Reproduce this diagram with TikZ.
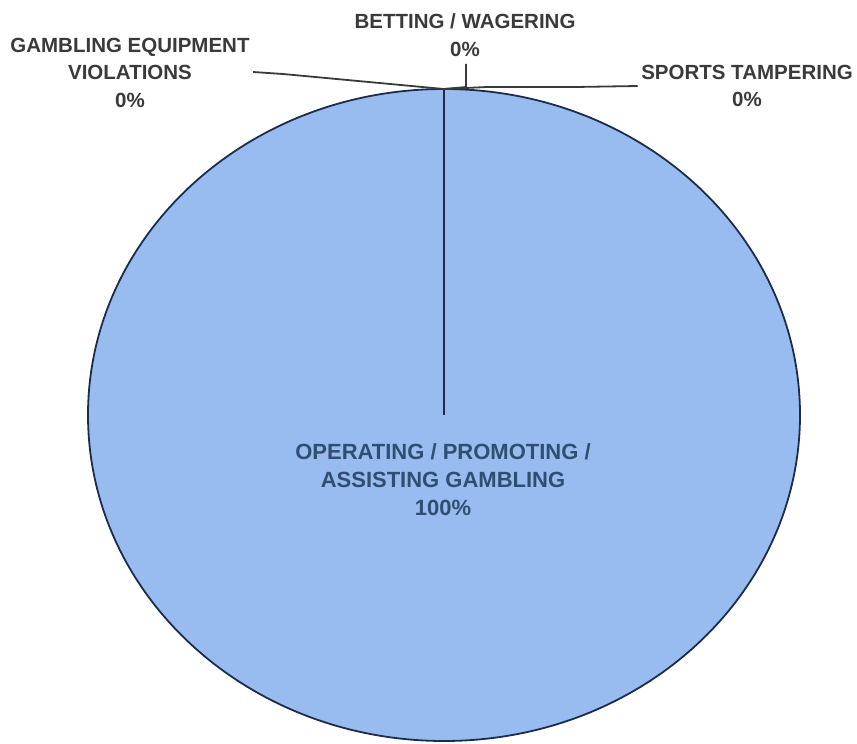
\documentclass[tikz,border=0pt]{standalone}
\usepackage{fontspec}
\setmainfont{Liberation Sans}
\definecolor{piefill}{RGB}{153,188,240}
\definecolor{pieline}{RGB}{30,44,76}
\definecolor{labelgray}{RGB}{58,58,58}
\definecolor{innerblue}{RGB}{48,78,114}
\tikzset{>=stealth}

\begin{document}
\begin{tikzpicture}[x=1pt,y=-1pt,
    lbl/.style={font=\bfseries\fontsize{20.5}{27.5}\selectfont, text=labelgray, align=center},
    leader/.style={draw=labelgray, line width=1.8pt}]
    \useasboundingbox (0,0) rectangle (857,744);
    \coordinate (c) at (444,415);
    \coordinate (top) at (444,89);
    \draw[pieline, fill=piefill, line width=1.8pt] (c) ellipse [x radius=356, y radius=326];
    \draw[pieline, line width=1.8pt] (c) -- (top);
    \node[font=\bfseries\fontsize{22}{28}\selectfont, text=innerblue, align=center] (ops) at (443,480) {OPERATING / PROMOTING /\\ASSISTING GAMBLING\\100\%};
    \node[lbl] (gev) at (130,72.5) {GAMBLING EQUIPMENT\\VIOLATIONS\\0\%};
    \node[lbl] (bet) at (465,35) {BETTING / WAGERING\\0\%};
    \node[lbl] (spt) at (747,86) {SPORTS TAMPERING\\0\%};
    \draw[leader] (gev.east |- 0,72) -- (283,74) -- (433,88) -- (top);
    \draw[leader] (bet.south) ++(1,4) -- (466,87) -- (top);
    \draw[leader] (spt.west) -- (575,87) -- (487,87) -- (top);
\end{tikzpicture}
\end{document}
